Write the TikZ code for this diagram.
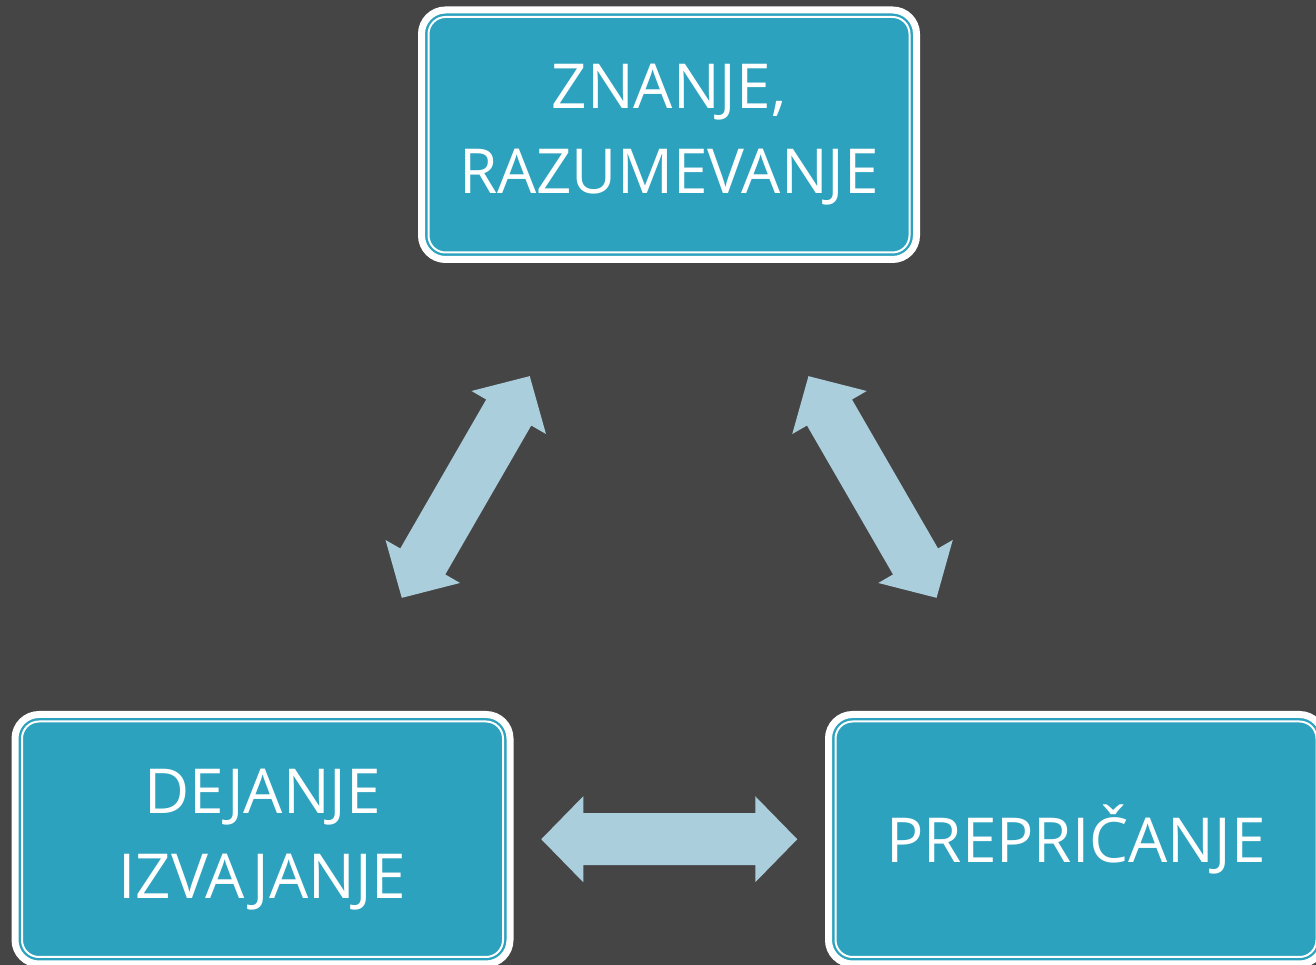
\documentclass[tikz,border=0pt]{standalone}
\usepackage{fontspec}
\setmainfont{Open Sans}
\usetikzlibrary{calc}

\definecolor{bggray}{RGB}{69,69,69}
\definecolor{boxteal}{RGB}{44,162,190}
\definecolor{arrowblue}{RGB}{171,206,221}

\tikzset{
  stagebox/.style={draw=white, line width=7pt, fill=boxteal, rounded corners=24pt,
    minimum width=495pt, minimum height=249.5pt, outer sep=0pt, inner sep=0pt,
    text=white, align=center, font=\fontsize{62pt}{85pt}\selectfont},
  innerframe/.style={draw=white, line width=2pt, rounded corners=17pt},
  % dvojna puscica na sredini med dvema vozliscema
  link/.style={fill=arrowblue, to path={
    let \p1=(\tikztostart), \p2=(\tikztotarget), \n1={atan2(\y2-\y1,\x2-\x1)} in
    [shift={($(\p1)!0.5!(\p2)$)}, rotate=\n1]
    (-128,0) -- (-86,43) -- (-86,26) -- (86,26) -- (86,43) -- (128,0)
    -- (86,-43) -- (86,-26) -- (-86,-26) -- (-86,-43) -- cycle}}
}

\begin{document}
\begin{tikzpicture}[x=1pt, y=1pt]
\useasboundingbox (0,0) rectangle (1316,965);
\fill[bggray] (0,0) rectangle (1316,965);
\clip (0,0) rectangle (1316,965);

% Znanje
\node[stagebox] (knowledge) at (669,830.25) {ZNANJE,\\RAZUMEVANJE};

% Dejanje
\node[stagebox] (action) at (262.5,125.75) {DEJANJE\\IZVAJANJE};

% Prepricanje
\node[stagebox] (belief) at (1076,125.75) {PREPRIČANJE};

% notranji okvirji
\foreach \b in {knowledge,action,belief}
  \draw[innerframe] ([xshift=7pt,yshift=-7pt]\b.north west) rectangle ([xshift=-7pt,yshift=7pt]\b.south east);

% povezave
\fill[link] (knowledge.center) to (action.center);
\fill[link] (knowledge.center) to (belief.center);
\fill[link] (action.center) to (belief.center);
\end{tikzpicture}
\end{document}
